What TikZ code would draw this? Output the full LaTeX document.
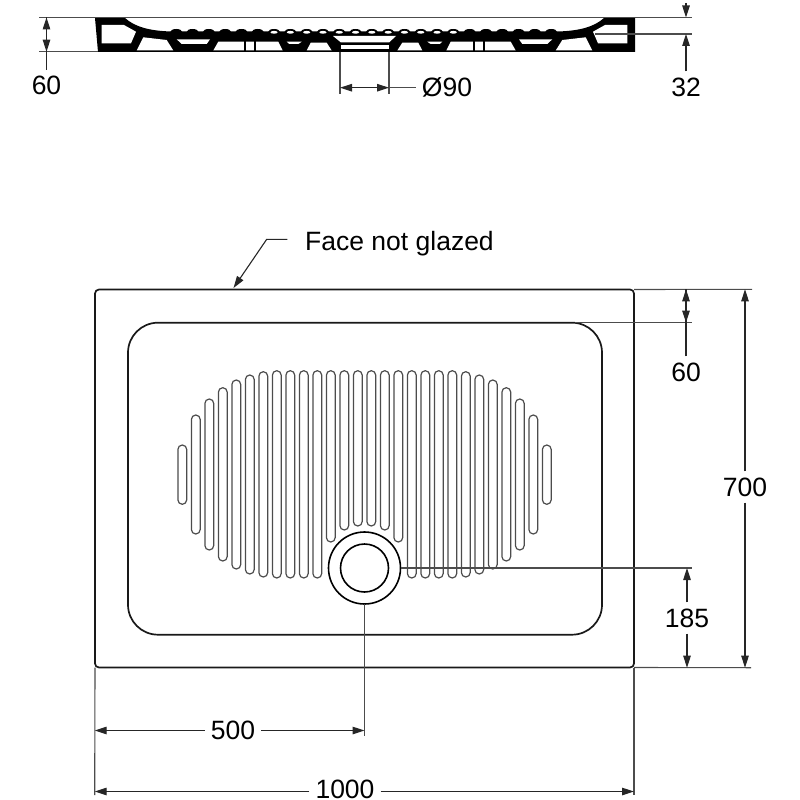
\documentclass[tikz,border=0pt]{standalone}
\usepackage{fontspec}
\setmainfont{Liberation Sans}
\usetikzlibrary{calc,arrows.meta}
\tikzset{
  plate/.style={ % outline of the tray, seen from above
    draw=black!90, line width=1.7pt, rectangle, inner sep=0pt, outer sep=0pt
  },
  slot/.style={draw=black!70, line width=1.2pt, rounded corners=4.4pt},
  ring/.style={draw=black, line width=1.6pt, circle, inner sep=0pt, outer sep=0pt},
  extline/.style={draw=black!70, line width=1.1pt},
  dimline/.style={draw=black!85, line width=1.1pt, -{Triangle[length=12pt,width=7.5pt]}},
  dimboth/.style={dimline, {Triangle[length=12pt,width=7.5pt]}-{Triangle[length=12pt,width=7.5pt]}},
  dimtext/.style={inner sep=6pt, text=black, font=\fontsize{26.5}{30}\selectfont},
  hole/.style={fill=white, draw=none}
}
\begin{document}
\begin{tikzpicture}[x=1pt, y=-1pt]
  \useasboundingbox (0,0) rectangle (800,800);

  % section through the tray
  \fill[black] (95,18) -- (125,18) .. controls (135,27) and (150,31) .. (172,31.5)
    -- (557,31.5) .. controls (579,31) and (594,27) .. (604,18) -- (635,18)
    -- (635,52) -- (98,52) -- cycle;
  \foreach \k in {-12,...,11}
    \fill[black] ({363.7+16.3*\k+8.15},32) ellipse (6 and 3);
  \foreach \k in {-6,...,5}
    \fill[white] ({363.7+16.3*\k+8.15},32.3) ellipse (3.6 and 1.4);
  \foreach \off/\flip in {0/1,729/-1} {
    \begin{scope}[shift={(\off,0)}, xscale=\flip]
      \fill[hole] (101.7,25) -- (124,25) -- (136,31.7) -- (131,43.3) -- (101.7,43.3) -- cycle;
      \fill[hole] (143.3,37.3) -- (166.7,40) -- (173.3,50.5) -- (136.7,50.5) -- cycle;
      \fill[hole] (176.7,39.3) -- (210,39.3) -- (206.7,44) -- (181.7,44) -- cycle;
      \fill[hole] (218.3,41.7) -- (278.3,41.7) -- (282.7,50.5) -- (213.3,50.5) -- cycle;
      \fill[hole] (286.7,41.7) -- (301.7,41.7) -- (298.3,44) -- (289.3,44) -- cycle;
      \fill[hole] (310.7,42.7) -- (326.7,42.7) -- (331.7,50.5) -- (306.7,50.5) -- cycle;
      \fill[black] (244.2,41) rectangle (245.8,51);
      \fill[black] (254.2,41) rectangle (255.8,51);
    \end{scope}
  }
  \fill[hole] (333,36) -- (396,36) -- (389,42.5) -- (341,42.5) -- cycle;
  \fill[hole] (341,45) rectangle (389,49);

  % plan of the tray
  \node[plate, rounded corners=4pt, minimum width=539pt, minimum height=378pt] (tray) at (364.5,478.5) {};
  \node[plate, rounded corners=30pt, minimum width=474pt, minimum height=312pt] (basin) at (365,478.7) {};
  \foreach \n/\ytop/\ybot in {
      0/445/504.3, 1/415/534, 2/399/550, 3/387.7/561, 4/380/569, 5/375/574, 6/371.7/577,
      7/370.7/578, 8/370.7/578, 9/370.7/578, 10/370.7/578, 11/370.7/542, 12/370.7/530, 13/370.7/526,
      14/370.7/526, 15/370.7/530, 16/370.7/542, 17/370.7/578, 18/370.7/578, 19/370.7/578, 20/370.7/578,
      21/371.7/577, 22/375/574, 23/380/569, 24/387.7/561, 25/399/550, 26/415/534, 27/445/504.3}
    \draw[slot] ({182.3+13.5*\n-4.4},\ytop) rectangle ({182.3+13.5*\n+4.4},\ybot);
  \node[ring, minimum size=72pt] (drainouter) at (364.5,568) {};
  \node[ring, minimum size=48pt] (draininner) at (364.5,568) {};

  % labels
  \node[dimtext] (lab_sixty_side) at (46.5,85.5) {60};
  \node[dimtext] (lab_bore) at (447,87.7) {Ø90};
  \node[dimtext] (lab_lip) at (686,87) {32};
  \node[dimtext, anchor=base west, inner sep=0pt] (lab_face) at (305,250) {Face not glazed};
  \node[dimtext] (lab_rim) at (686,372) {60};
  \node[dimtext] (lab_depth) at (745,487) {700};
  \node[dimtext] (lab_drain_y) at (687,618) {185};
  \node[dimtext] (lab_drain_x) at (233,730.5) {500};
  \node[dimtext, inner ysep=0pt] (lab_width) at (345,789) {1000};

  % dimension coordinates
  \coordinate (s_tl) at (39,17.5);
  \coordinate (s_tr) at (692,17.5);
  \coordinate (s_bl) at (39,51.7);
  \coordinate (s_br) at (98,51.7);
  \coordinate (s_ll) at (595,34);
  \coordinate (s_lr) at (692,34);
  \coordinate (s_up) at (686,3);
  \coordinate (d_l) at (340,52);
  \coordinate (d_ltop) at (340,94);
  \coordinate (d_r) at (389,52);
  \coordinate (d_rtop) at (389,94);
  \coordinate (d_la) at (340,87.7);
  \coordinate (d_ra) at (389,87.7);
  \coordinate (t_ne) at (752,289.3);
  \coordinate (t_se) at (751,667.7);
  \coordinate (r_in) at (575,322.6);
  \coordinate (r_out) at (692,322.6);
  \coordinate (c_out) at (692,568);
  \coordinate (w_l) at (94.7,795);
  \coordinate (w_r) at (634,795);
  \coordinate (w_y) at (345,791.5);
  \coordinate (c_low) at (364.5,736);
  \coordinate (lead_a) at (287.3,239.3);
  \coordinate (lead_b) at (266.7,239.3);
  \coordinate (lead_c) at (233.5,288);

  % witness lines
  \draw[extline] (s_tl) -- (s_tr);
  \draw[extline] (s_bl) -- (s_br);
  \draw[extline] (s_ll) -- (s_lr);
  \draw[extline] (d_l) -- (d_ltop);
  \draw[extline] (d_r) -- (d_rtop);
  \draw[extline] (tray.north east) -- (t_ne);
  \draw[extline] (tray.south east) -- (t_se);
  \draw[extline] (r_in) -- (r_out);
  \draw[extline] (drainouter.east) -- (c_out);
  \draw[extline] (tray.south west) -- (w_l);
  \draw[extline] (tray.south east) -- (w_r);
  \draw[extline] (drainouter.south) -- (c_low);

  % dimension lines
  \draw[dimline] (lab_sixty_side.north) -- (lab_sixty_side.north |- s_tl);
  \draw[dimline] (lab_sixty_side.north |- s_tl) -- (lab_sixty_side.north |- s_bl);
  \draw[dimboth] (d_la) -- (d_ra);
  \draw[extline] (d_ra) -- (lab_bore.west);
  \draw[dimline] (lab_lip.north) -- (lab_lip.north |- s_lr);
  \draw[dimline] (s_up) -- (lab_lip.north |- s_tr);
  \draw[dimline] (lab_rim.north) -- (lab_rim.north |- t_ne);
  \draw[dimline] (lab_rim.north |- t_ne) -- (lab_rim.north |- r_out);
  \draw[dimline] (lab_depth.north) -- (lab_depth.north |- t_ne);
  \draw[dimline] (lab_depth.south) -- (lab_depth.south |- t_se);
  \draw[dimline] (lab_drain_y.north) -- (lab_drain_y.north |- c_out);
  \draw[dimline] (lab_drain_y.south) -- (lab_drain_y.south |- t_se);
  \draw[dimline] (lab_drain_x.west) -- (lab_drain_x.west -| w_l);
  \draw[dimline] (lab_drain_x.east) -- (lab_drain_x.east -| c_low);
  \draw[dimline] (lab_width.west |- w_y) -- (w_l |- w_y);
  \draw[dimline] (lab_width.east |- w_y) -- (w_r |- w_y);

  % leader
  \draw[dimline] (lead_a) -- (lead_b) -- (lead_c);
\end{tikzpicture}
\end{document}
